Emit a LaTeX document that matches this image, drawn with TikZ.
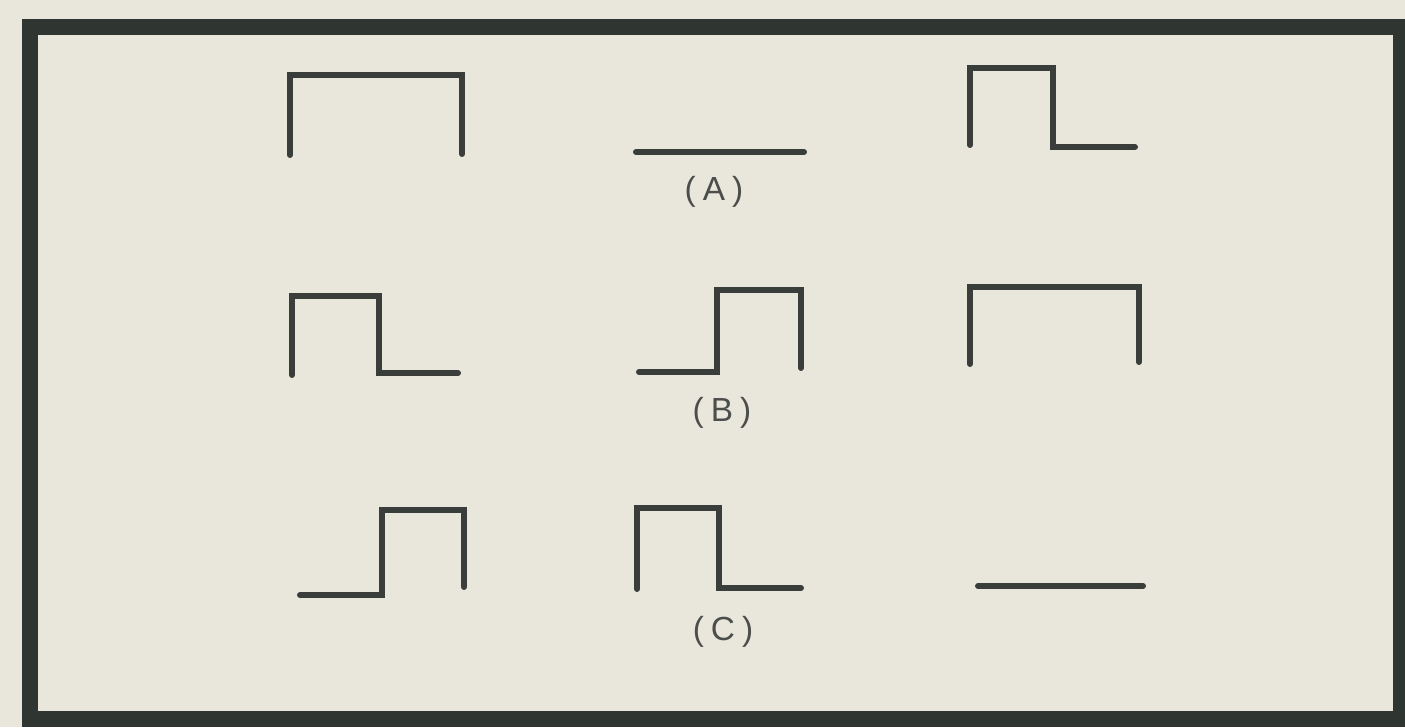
\documentclass[tikz,border=0pt]{standalone}
\usepackage{fontspec}
\setmainfont{Liberation Sans}
\usetikzlibrary{positioning}

\definecolor{paper}{HTML}{E9E7DC}
\definecolor{ink}{HTML}{3A3E3A}
\definecolor{frameink}{HTML}{2F3531}
\definecolor{labelink}{HTML}{4C4E4C}

\begin{document}
\begin{tikzpicture}[
            x=0.02cm, y=-0.02cm,
            wave/.style={draw=ink, line width=3.4pt, line cap=round, line join=miter},
            border/.style={draw=frameink, line width=9.6pt},
            lab/.style={text=labelink, font=\fontsize{19}{22}\selectfont, inner sep=0pt}
        ]
        \fill[paper] (0,0) rectangle (1405,727);
        \useasboundingbox (0,0) rectangle (1405,727);
        \draw[border] (30,27) rectangle (1401,719);

        % row A
        \draw[wave] (290,155) -- (290,75) -- (462,75) -- (462,154);
        \draw[wave] (636,152) -- (804,152);
        \draw[wave] (970,145) -- (970,68) -- (1053,68) -- (1053,147) -- (1135,147);
        \node[lab] (labA) at (714,192) {(\hspace{4pt}A\hspace{4pt})};

        % row B
        \draw[wave] (292,375) -- (292,296) -- (379,296) -- (379,373) -- (458,373);
        \draw[wave] (639,372) -- (717,372) -- (717,290) -- (801,290) -- (801,368);
        \draw[wave] (970,364) -- (970,287) -- (1139,287) -- (1139,362);
        \node[lab] (labB) at (722,413) {(\hspace{4pt}B\hspace{4pt})};

        % row C
        \draw[wave] (300,595) -- (382,595) -- (382,510) -- (464,510) -- (464,587);
        \draw[wave] (637,589) -- (637,508) -- (719,508) -- (719,588) -- (801,588);
        \draw[wave] (978,586) -- (1143,586);
        \node[lab] (labC) at (723,632) {(\hspace{4pt}C\hspace{4pt})};
    \end{tikzpicture}
\end{document}
